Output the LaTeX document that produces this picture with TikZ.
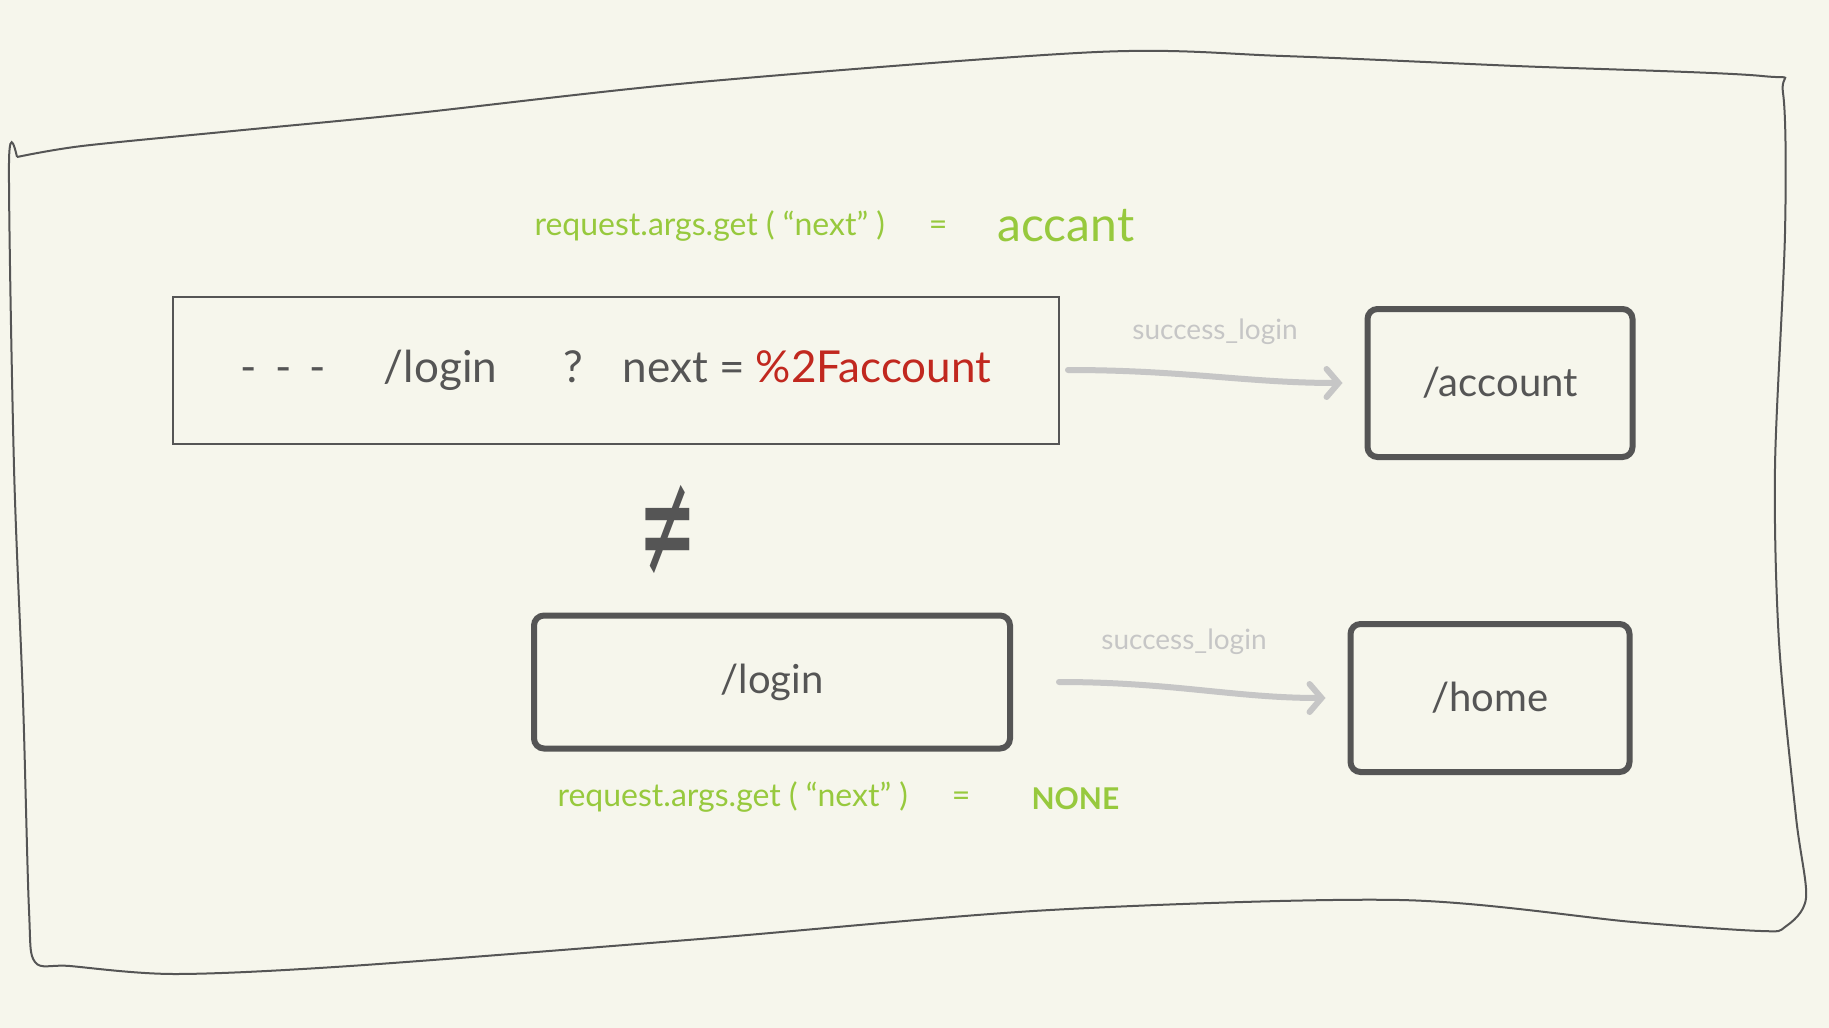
\documentclass[tikz,border=0pt]{standalone}
\usepackage{fontspec}
\setmainfont{Lato}
\newfontfamily\symbolfont{DejaVu Sans}
\usetikzlibrary{arrows.meta}
\definecolor{paper}{HTML}{F6F6EC}
\definecolor{ink}{HTML}{555555}
\definecolor{lime}{HTML}{97C93D}
\definecolor{rust}{HTML}{C1281F}
\definecolor{pencil}{HTML}{C6C6C6}
\begin{document}
\begin{tikzpicture}[x=1pt,y=-1pt,
  route/.style={draw=ink,line width=6pt,rounded corners=10pt,text=ink,
    font=\fontsize{40}{44}\selectfont,inner sep=0pt},
  hint/.style={text=lime,font=\fontsize{32}{36}\selectfont,anchor=west},
  flow/.style={draw=pencil,line width=6pt,line cap=round,shorten >=22pt,
    -{Straight Barb[length=12pt,width=28pt,line cap=round]}},
  flowlabel/.style={text=pencil,font=\fontsize{28}{32}\selectfont}]
% the paper
\fill[paper] (0,0) rectangle (1829,1028);
% the hand drawn frame
\draw[ink,line width=2pt] plot[smooth,tension=0.5] coordinates {
  (17,157) (82,146) (233,131) (408,114) (700,82) (1097,52) (1283,56)
  (1516,66) (1762,76) (1783,93) (1785,233) (1775,467) (1779,642)
  (1796,817) (1806,898) (1785,927) (1761,931) (1633,922) (1400,900)
  (1050,910) (700,939) (350,966) (175,974) (70,966) (35,962) (29,910)
  (23,700) (14,467) (9,163) (17,157)};
% the urls
\node[draw=ink,line width=2pt,minimum width=886pt,minimum height=147pt,
  text=ink,font=\fontsize{44}{48}\selectfont] (url) at (616,370)
  {-\hspace{18pt}-\hspace{18pt}-\hspace{58pt}/login\hspace{66pt}?\hspace{40pt}next
   = \textcolor{rust}{\%2Faccount}};
\node[route,minimum width=476pt,minimum height=133pt] (login) at (772,682) {/login};
\node[route,minimum width=265pt,minimum height=148pt] (account) at (1500,383) {/account};
\node[route,minimum width=279pt,minimum height=148pt] (home) at (1490,698) {/home};
% not equal
\node[text=ink,font=\symbolfont\fontsize{100}{100}\selectfont,xscale=0.7,yscale=1.5]
  (neq) at (668,531) {≠};
% what next holds
\node[hint] (nexttop) at (531,226) {request.args.get ( ``next'' )\hspace{44pt}=};
\node[hint,font=\fontsize{48}{52}\selectfont] (acc) at (994,226) {accant};
\node[hint] (nextlow) at (554,797) {request.args.get ( ``next'' )\hspace{44pt}=};
\node[hint,font=\fontsize{30}{34}\selectfont\bfseries] (none) at (1028,799) {NONE};
% the redirects
\draw[flow] (url.east) ++(8pt,0) coordinate (u) to[out=0,in=180] (account.west);
\draw[flow] (login.east) ++(46pt,0) coordinate (l) to[out=0,in=180] (home.west);
\node[flowlabel] (ok1) at (1215,332) {success\_login};
\node[flowlabel] (ok2) at (1184,642) {success\_login};
\end{tikzpicture}
\end{document}
